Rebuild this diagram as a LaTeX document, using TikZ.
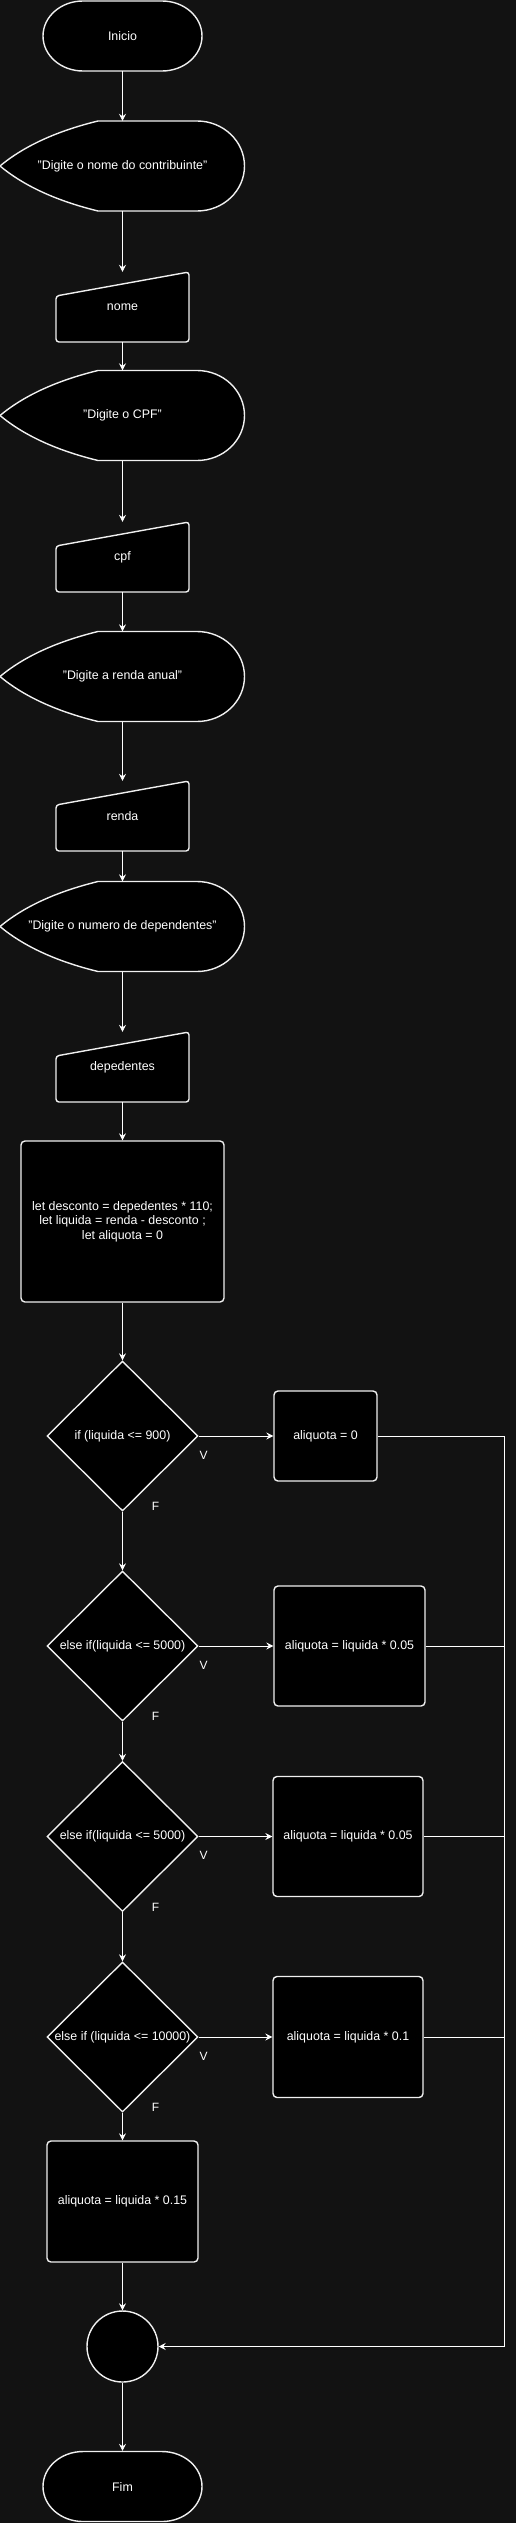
\documentclass[tikz,border=0pt]{standalone}
\usepackage{fontspec}
\setmainfont{Liberation Sans}
\usepackage{tikz}
\usetikzlibrary{calc,shapes.geometric,arrows.meta}

\definecolor{bgdark}{RGB}{18,18,18}
\definecolor{strokegray}{RGB}{240,240,240}

\tikzset{
  base/.style={text=white,font=\fontsize{12.4}{14.5}\selectfont,align=center,inner sep=0pt},
  shp/.style={draw=strokegray,fill=black,line width=1.4pt},
  proc/.style={base,shp,rounded corners=4pt},
  cond/.style={base,shp,diamond,shape aspect=1},
  line/.style={draw=white,line width=0.8pt},
  flow/.style={line,-{Stealth[length=7pt,width=7pt,inset=2.5pt]}},
  lbl/.style={text=white,font=\fontsize{12}{14}\selectfont,inner sep=0pt},
}

\begin{document}
\begin{tikzpicture}[x=1pt,y=-1pt]
  %% Background
  \useasboundingbox (0,0) rectangle (515,2523);
  \fill[bgdark] (-5,-5) rectangle (520,2528);

  %% Terminators (start and end)
  \foreach \y in {36,2486.5}
  {
    \draw[shp] (83,{\y-35}) -- (162,{\y-35})
      arc[start angle=90,end angle=-90,x radius=40pt,y radius=35pt]
      -- (83,{\y+35})
      arc[start angle=270,end angle=90,x radius=40pt,y radius=35pt] -- cycle;
  }

  %% Display shapes (messages to the user)
  \foreach \y in {166,415.5,676.5,926.5}
  {
    \draw[shp] (0,\y) .. controls (24,{\y-20}) and (57,{\y-35}) .. (98,{\y-45})
      -- (197,{\y-45})
      arc[start angle=90,end angle=-90,x radius=47.5pt,y radius=45pt]
      -- (98,{\y+45}) .. controls (57,{\y+35}) and (24,{\y+20}) .. cycle;
  }

  %% Manual inputs
  \foreach \y in {272,522,781,1032}
  {
    \draw[shp,rounded corners=3pt] (56,{\y+70}) -- (56,{\y+24}) -- (189,\y)
      -- (189,{\y+70}) -- cycle;
  }

  %% Text of the shapes
  \node[base,minimum width=159pt,minimum height=70pt] (INI) at (122.5,36) {Inicio};
  \node[base,minimum width=245pt,minimum height=90pt] (D1) at (122.5,166)
    {"Digite o nome do contribuinte"};
  \node[base,minimum width=133pt,minimum height=70pt] (NOME) at (122.5,307) {nome};
  \node[base,minimum width=245pt,minimum height=90pt] (D2) at (122.5,415.5)
    {"Digite o CPF"};
  \node[base,minimum width=133pt,minimum height=70pt] (CPF) at (122.5,557) {cpf};
  \node[base,minimum width=245pt,minimum height=90pt] (D3) at (122.5,676.5)
    {"Digite a renda anual"};
  \node[base,minimum width=133pt,minimum height=70pt] (RENDA) at (122.5,816) {renda};
  \node[base,minimum width=245pt,minimum height=90pt] (D4) at (122.5,926.5)
    {"Digite o numero de dependentes"};
  \node[base,minimum width=133pt,minimum height=70pt] (DEP) at (122.5,1067) {depedentes};

  \node[proc,minimum width=203pt,minimum height=161pt] (CALC) at (122.5,1221.5)
    {let desconto = depedentes * 110;\\let liquida = renda - desconto ;\\let aliquota = 0};

  %% Conditions and their assignments
  \node[cond,minimum width=151pt,minimum height=150pt] (C1) at (122.5,1436) {if (liquida <= 900)};
  \node[cond,minimum width=151pt,minimum height=150pt] (C2) at (122.5,1646) {else if(liquida <= 5000)};
  \node[cond,minimum width=151pt,minimum height=150pt] (C3) at (122.5,1836.5) {else if(liquida <= 5000)};
  \node[cond,minimum width=151pt,minimum height=150pt] (C4) at (122.5,2037) {else if (liquida <= 10000)};

  \node[proc,minimum width=103pt,minimum height=90pt] (B1) at (325.5,1436) {aliquota = 0};
  \node[proc,minimum width=151pt,minimum height=120pt] (B2) at (349.5,1646) {aliquota = liquida * 0.05};
  \node[proc,minimum width=150pt,minimum height=120pt] (B3) at (348,1836.5) {aliquota = liquida * 0.05};
  \node[proc,minimum width=150pt,minimum height=121pt] (B4) at (348,2037) {aliquota = liquida * 0.1};
  \node[proc,minimum width=151pt,minimum height=121pt] (ELSE) at (122.5,2201.5) {aliquota = liquida * 0.15};

  \node[base,shp,circle,minimum size=71pt] (J) at (122.5,2346.5) {};
  \node[base,minimum width=157pt,minimum height=71pt] (FIM) at (122.5,2486.5) {Fim};

  %% Main flow
  \foreach \a/\b in {INI/D1,D1/NOME,NOME/D2,D2/CPF,CPF/D3,D3/RENDA,RENDA/D4,D4/DEP,
                     DEP/CALC,CALC/C1,C1/C2,C2/C3,C3/C4,C4/ELSE,ELSE/J,J/FIM}
  {
    \draw[flow] (\a.south) -- (\b.north);
  }

  %% Branches with V and F labels
  \foreach \i in {1,...,4}
  {
    \draw[flow] (C\i.east) -- (B\i.west);
    \node[lbl] (V\i) at ($(C\i.east)+(5,19)$) {V};
    \node[lbl] (F\i) at ($(C\i.south)+(33,-5)$) {F};
  }

  %% Back to the junction
  \coordinate (RET) at (504,1436);
  \draw[flow] (B1.east) -- (RET) |- (J.east);
  \foreach \i in {2,3,4}
    \draw[line] (B\i.east) -- (B\i.east -| RET);
\end{tikzpicture}
\end{document}
